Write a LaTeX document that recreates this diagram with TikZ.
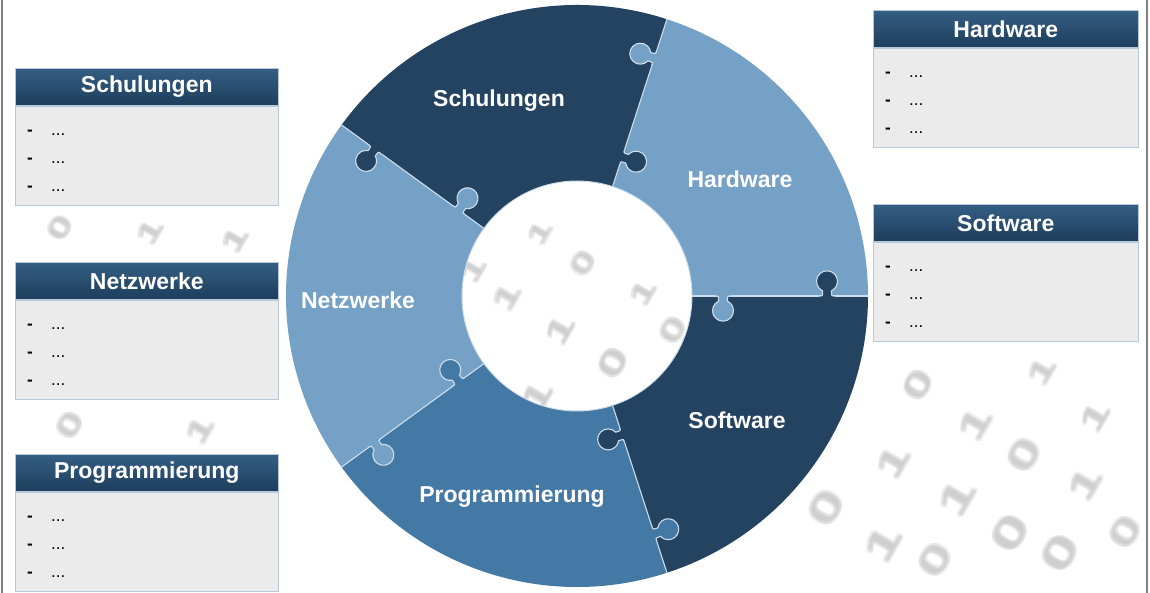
\documentclass[tikz,border=0pt]{standalone}
\usepackage{fontspec}
\setmainfont{Liberation Sans}

% piece and box colours
\definecolor{pieceDark}{RGB}{36,67,96}
\definecolor{pieceLight}{RGB}{118,161,198}
\definecolor{pieceMid}{RGB}{68,120,165}
\definecolor{seam}{RGB}{205,222,238}
\definecolor{headTop}{RGB}{52,94,132}
\definecolor{headBot}{RGB}{30,62,92}
\definecolor{bodyFill}{RGB}{235,235,235}
\definecolor{bodyLine}{RGB}{182,200,218}
\definecolor{digitGray}{RGB}{190,190,190}
\definecolor{frameGray}{RGB}{128,128,128}

\tikzset{
  seamline/.style={draw=seam, line width=1.1pt},
  ringlabel/.style={text=white, inner sep=0pt,
    font=\fontsize{23}{27}\selectfont\bfseries},
  boxhead/.style={rectangle, minimum height=37pt, inner sep=0pt,
    top color=headTop, bottom color=headBot, draw=bodyLine, line width=0.6pt,
    text=white, font=\fontsize{23}{27}\selectfont\bfseries},
  boxbody/.style={rectangle, minimum height=99pt, inner sep=0pt,
    fill=bodyFill, draw=bodyLine, line width=0.8pt},
  itemdash/.style={anchor=base west, inner sep=0pt,
    font=\fontsize{17}{20}\selectfont\bfseries},
  itemdots/.style={anchor=base west, inner sep=0pt,
    font=\fontsize{17}{20}\selectfont},
  bgdigit/.style={text=digitGray, text opacity=0.22, inner sep=0pt, rotate=60, xscale=1.6}
}

% one puzzle knob on the seam at angle #1, #2 from the centre,
% pointing to side #3 (1 = counter-clockwise, -1 = clockwise), filled with #4
\newcommand{\puzzleknob}[4]{%
  \begin{scope}[rotate=#1, yscale=#3]
    \fill[#4] ({#2-8},-1.3) -- ({#2-8},0) .. controls ({#2-4.5},0) .. ({#2-4.5},3.5)
      -- ({#2-4.5},5.2) arc[start angle=244.6, end angle=-64.6, radius=10.5]
      -- ({#2+4.5},3.5) .. controls ({#2+4.5},0) .. ({#2+8},0) -- ({#2+8},-1.3) -- cycle;
    \draw[seamline] ({#2-8},0) .. controls ({#2-4.5},0) .. ({#2-4.5},3.5)
      -- ({#2-4.5},5.2) arc[start angle=244.6, end angle=-64.6, radius=10.5]
      -- ({#2+4.5},3.5) .. controls ({#2+4.5},0) .. ({#2+8},0);
  \end{scope}}

% annular sector from angle #1 to #2 filled with #3
\newcommand{\ringpiece}[3]{%
  \fill[#3] (#1:115) -- (#1:291) arc[start angle=#1, end angle=#2, radius=291]
    -- (#2:115) arc[start angle=#2, end angle=#1, radius=115] -- cycle;}

% info box: #1 name, #2 left x, #3 top y, #4 width, #5 title
\newcommand{\infobox}[5]{%
  \node[boxhead, minimum width=#4pt, anchor=north west] (#1-head) at (#2,#3) {#5};
  \node[boxbody, minimum width=#4pt, anchor=north west] (#1-body) at (#1-head.south west) {};
  \foreach \k in {0,1,2} {
    \node[itemdash] (#1-dash-\k) at ([xshift=12pt, yshift={-30pt-28pt*\k}]#1-body.north west) {-};
    \node[itemdots] (#1-dots-\k) at ([xshift=36pt, yshift={-30pt-28pt*\k}]#1-body.north west) {...};
  }}

\begin{document}
\begin{tikzpicture}[x=1pt, y=1pt]
  \useasboundingbox (0,0) rectangle (1150,593);
  \fill[white] (0,0) rectangle (1150,593);

  % faint, soft binary digits in the backdrop (a few offset copies each)
  \foreach \x/\y/\d/\s [count=\i] in {
      918/385/0/34, 975/424/1/36, 1095/417/1/32, 1024/455/0/38, 1085/484/1/36,
      893/462/1/36, 957/498/1/40, 826/508/0/40, 1010/533/0/42, 883/544/1/40,
      1060/553/0/42, 935/560/0/38, 1125/532/0/36, 1042/371/1/30,
      540/233/1/26, 583/263/0/28, 643/293/1/28, 507/297/1/30,
      560/330/1/32, 613/363/0/34, 473/270/1/28, 673/330/0/30, 537/397/1/34,
      60/228/0/28, 150/232/1/28, 235/240/1/28, 70/425/0/30, 200/430/1/30}
    \foreach \dx/\dy [count=\j] in {0/0, 1.4/1.4, -1.4/1.4, 1.4/-1.4, -1.4/-1.4}
      \node[bgdigit, font=\fontsize{\s}{\s}\selectfont\bfseries] (bg-\i-\j)
        at (\x+\dx,593-\y+\dy) {\d};

  % side frame lines
  \draw[frameGray, line width=2pt] (2,0) -- (2,593);
  \draw[frameGray, line width=2pt] (1147,0) -- (1147,593);

  % puzzle ring
  \begin{scope}[shift={(577,297)}]
    \ringpiece{0}{72}{pieceLight}
    \ringpiece{72}{144}{pieceDark}
    \ringpiece{144}{216}{pieceLight}
    \ringpiece{216}{288}{pieceMid}
    \ringpiece{288}{360}{pieceDark}
    \draw[seam, line width=0.9pt] (0,0) circle[radius=115];
    \foreach \a in {0,72,144,216,288}
      \draw[seamline] (\a:115) -- (\a:291);
    \puzzleknob{0}{250}{1}{pieceDark}
    \puzzleknob{0}{146}{-1}{pieceLight}
    \puzzleknob{72}{250}{1}{pieceLight}
    \puzzleknob{72}{146}{-1}{pieceDark}
    \puzzleknob{144}{250}{1}{pieceDark}
    \puzzleknob{144}{146}{-1}{pieceLight}
    \puzzleknob{216}{250}{1}{pieceLight}
    \puzzleknob{216}{146}{-1}{pieceMid}
    \puzzleknob{288}{250}{1}{pieceMid}
    \puzzleknob{288}{146}{-1}{pieceDark}
  \end{scope}

  % piece labels
  \node[ringlabel] (lab-schulungen) at (499,492) {Schulungen};
  \node[ringlabel] (lab-hardware) at (740,414) {Hardware};
  \node[ringlabel] (lab-netzwerke) at (358,293) {Netzwerke};
  \node[ringlabel] (lab-software) at (737,173) {Software};
  \node[ringlabel] (lab-programmierung) at (512,96) {Programmierung};

  % info boxes
  \infobox{schulungen}{15}{525}{263}{Schulungen}
  \infobox{netzwerke}{15}{331}{263}{Netzwerke}
  \infobox{programmierung}{15}{139}{263}{Programmierung}
  \infobox{hardware}{873}{583}{265}{Hardware}
  \infobox{software}{873}{389}{265}{Software}
\end{tikzpicture}
\end{document}
